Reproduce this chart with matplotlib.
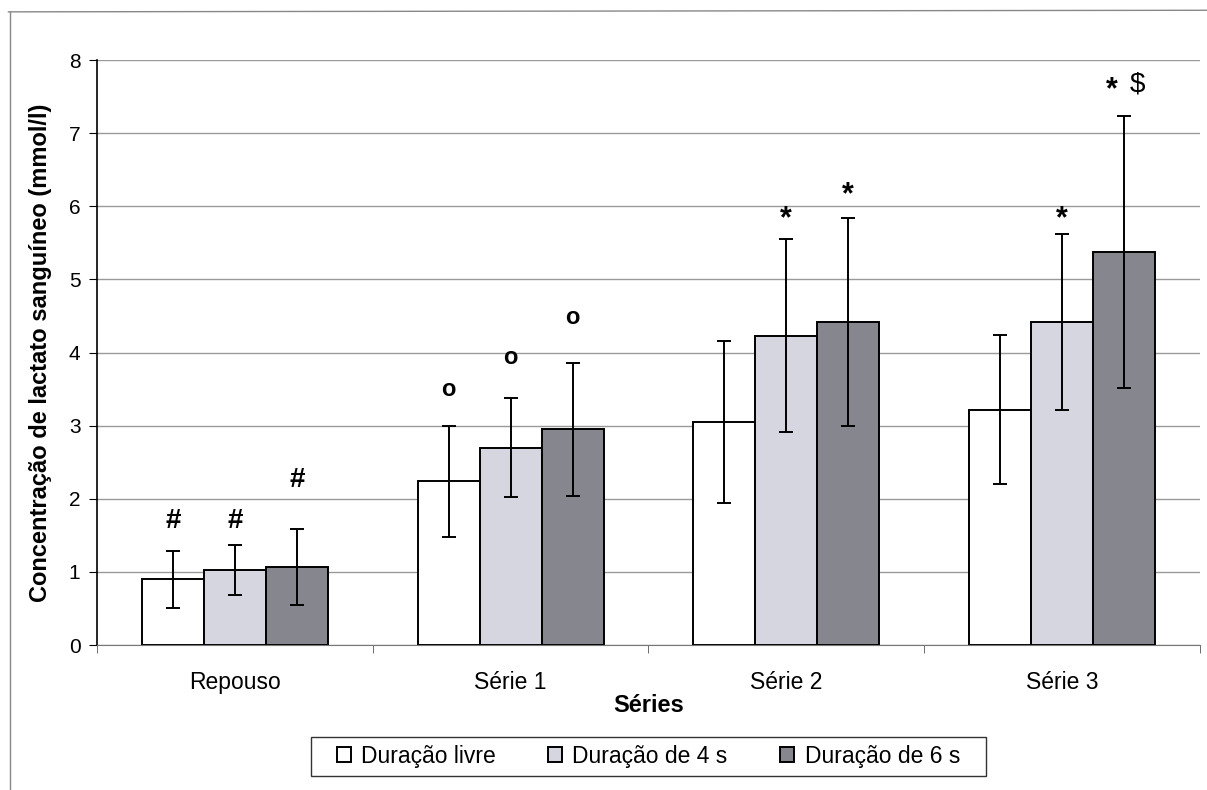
import numpy as np
import matplotlib.pyplot as plt
from matplotlib.lines import Line2D
from matplotlib.patches import Rectangle

plt.rcParams['font.family'] = ['Liberation Sans', 'DejaVu Sans']

categorias = ['Repouso', 'Série 1', 'Série 2', 'Série 3']
grupos = ['Duração livre', 'Duração de 4 s', 'Duração de 6 s']

# medias e desvios (mmol/l)
livre = [0.90, 2.24, 3.05, 3.22]
livre_dp = [0.39, 0.76, 1.11, 1.02]
dur4 = [1.03, 2.70, 4.23, 4.42]
dur4_dp = [0.34, 0.68, 1.32, 1.20]
dur6 = [1.07, 2.95, 4.42, 5.37]
dur6_dp = [0.52, 0.91, 1.42, 1.86]

# marcas de significancia e altura onde aparecem
marcas_livre = ['#', 'o', '', '']
alt_livre = [1.70, 3.49, 0, 0]
marcas_4 = ['#', 'o', '*', '*']
alt_4 = [1.70, 3.93, 5.82, 5.82]
marcas_6 = ['#', 'o', '*', '*  $']
alt_6 = [2.26, 4.48, 6.15, 7.67]

cores = ['white', '#d6d6e0', '#86868f']

fig = plt.figure(figsize=(12.07, 7.90), dpi=100)
ax = fig.add_axes([0.0804, 0.1835, 0.9136, 0.7405])

x = np.arange(len(categorias))
w = 0.225
series = [(livre, livre_dp, marcas_livre, alt_livre),
          (dur4, dur4_dp, marcas_4, alt_4),
          (dur6, dur6_dp, marcas_6, alt_6)]

estilo = {'#': (20, 'bold'), 'o': (17, 'bold'), '*': (22, 'bold')}

for k, (vals, dp, marcas, alts) in enumerate(series):
    pos = x + (k - 1) * w
    ax.bar(pos, vals, width=w, color=cores[k], edgecolor='black',
           linewidth=1.4, label=grupos[k], zorder=2)
    ax.errorbar(pos, vals, yerr=dp, fmt='none', ecolor='black',
                elinewidth=1.4, capsize=5, capthick=1.4, zorder=3)
    for p, m, a in zip(pos, marcas, alts):
        if not m:
            continue
        if m in estilo:
            fs, fw = estilo[m]
            ax.text(p, a, m, ha='center', va='center', fontsize=fs, fontweight=fw)
        else:
            # "* $" acima da ultima barra
            ax.text(p - 0.045, a - 0.08, '*', ha='center', va='center',
                    fontsize=22, fontweight='bold')
            ax.text(p + 0.05, a, '$', ha='center', va='center', fontsize=20)

ax.set_xlim(-0.5, 3.5)
ax.set_ylim(0, 8)
ax.set_yticks(range(0, 9))
ax.yaxis.grid(True, color='#9a9a9a', linewidth=1)
ax.set_axisbelow(True)

ax.set_xticks(x)
ax.set_xticklabels(categorias)
ax.set_xticks(np.arange(-0.5, 4.0, 1.0), minor=True)
ax.tick_params(axis='x', which='major', length=0, labelsize=16.5, pad=19)
ax.tick_params(axis='x', which='minor', length=6, color='#555555')
ax.tick_params(axis='y', labelsize=15, length=6, pad=6)

for s in ['top', 'right']:
    ax.spines[s].set_visible(False)
ax.spines['bottom'].set_color('#777777')
ax.spines['left'].set_linewidth(1.2)

ax.set_xlabel('Séries', fontsize=17, fontweight='bold', labelpad=0)
ax.set_ylabel('Concentração de lactato sanguíneo (mmol/l)', fontsize=17,
              fontweight='bold', labelpad=12)

leg = ax.legend(loc='center', bbox_to_anchor=(0.5, -0.19), ncol=3,
                fontsize=16.5, frameon=False,
                handlelength=0.6, handleheight=0.6, handletextpad=0.45,
                columnspacing=2.3, borderpad=0.35)

# caixa da legenda com mais folga nos lados
fig.canvas.draw()
bb = leg.get_window_extent().transformed(fig.transFigure.inverted())
padx = 18 / fig.bbox.width
fig.add_artist(Rectangle((bb.x0 - padx, bb.y0), bb.width + 2 * padx, bb.height,
                         transform=fig.transFigure, fill=False,
                         edgecolor='#333333', linewidth=1.0))

# moldura do grafico
fig.add_artist(Line2D([0.007, 1.0], [0.985, 0.987], color='#888888', lw=1,
                      transform=fig.transFigure))
fig.add_artist(Line2D([0.008, 0.008], [0.0, 0.985], color='#888888', lw=1,
                      transform=fig.transFigure))

fig.savefig('out.png', dpi=100)
